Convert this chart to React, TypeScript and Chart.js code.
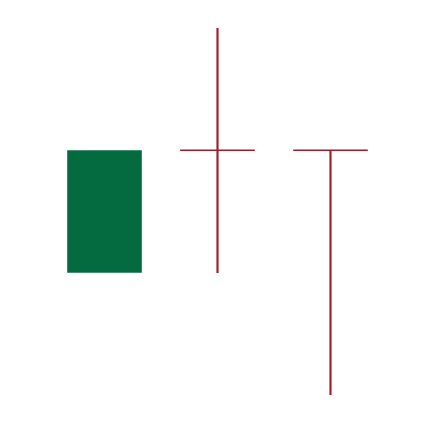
import React, { useEffect, useRef } from "react";
import { Chart, registerables } from "chart.js";

Chart.register(...registerables);

const labels = ["1", "2", "3"];
const opens = [1, 2, 2];
const highs = [2, 3, 2];
const lows = [1, 1, 0];
const closes = [2, 2, 2];

const UP = "#046A40";
const DOWN = "#A01C28";

const colorFor = (i: number) => (closes[i] > opens[i] ? UP : DOWN);
const bodyTop = (i: number) => Math.max(opens[i], closes[i]);
const bodyBot = (i: number) => Math.min(opens[i], closes[i]);

const dojiPlugin = {
  id: "dojiLines",
  afterDatasetsDraw(chart: any) {
    const xs = chart.scales.x;
    const ys = chart.scales.y;
    const ctx = chart.ctx;
    const slot = xs.width / labels.length;
    const half = (slot * 0.66) / 2;
    ctx.save();
    for (let i = 0; i < labels.length; i++) {
      if (opens[i] !== closes[i]) continue;
      const cx = xs.getPixelForValue(i);
      const py = ys.getPixelForValue(opens[i]);
      ctx.strokeStyle = colorFor(i);
      ctx.lineWidth = 1.5;
      ctx.beginPath();
      ctx.moveTo(cx - half, py);
      ctx.lineTo(cx + half, py);
      ctx.stroke();
    }
    ctx.restore();
  },
};

export default function App() {
  const ref = useRef<HTMLCanvasElement>(null);
  useEffect(() => {
    if (!ref.current) return;
    const colors = labels.map((_, i) => colorFor(i));
    const chart = new Chart(ref.current, {
      type: "bar",
      data: {
        labels,
        datasets: [
          {
            label: "upper wick",
            data: labels.map((_, i) =>
              highs[i] > bodyTop(i) ? [bodyTop(i), highs[i]] : null
            ) as any,
            backgroundColor: colors,
            barThickness: 1.5,
            grouped: false,
            order: 2,
          },
          {
            label: "lower wick",
            data: labels.map((_, i) =>
              lows[i] < bodyBot(i) ? [lows[i], bodyBot(i)] : null
            ) as any,
            backgroundColor: colors,
            barThickness: 1.5,
            grouped: false,
            order: 3,
          },
          {
            label: "body",
            data: labels.map((_, i) => [opens[i], closes[i]]) as any,
            backgroundColor: colors,
            barPercentage: 0.66,
            categoryPercentage: 1,
            grouped: false,
            order: 1,
          },
        ],
      },
      options: {
        animation: false,
        responsive: false,
        maintainAspectRatio: false,
        layout: { padding: { left: 40, right: 39, top: 20, bottom: 19 } },
        plugins: { legend: { display: false }, tooltip: { enabled: false } },
        scales: {
          x: { display: false, offset: true },
          y: { display: false, min: 0, max: 3 },
        },
      },
      plugins: [dojiPlugin],
    });
    return () => chart.destroy();
  }, []);
  return (
    <div style={{ width: 418, height: 406 }}>
      <canvas ref={ref} width={418} height={406} />
    </div>
  );
}
